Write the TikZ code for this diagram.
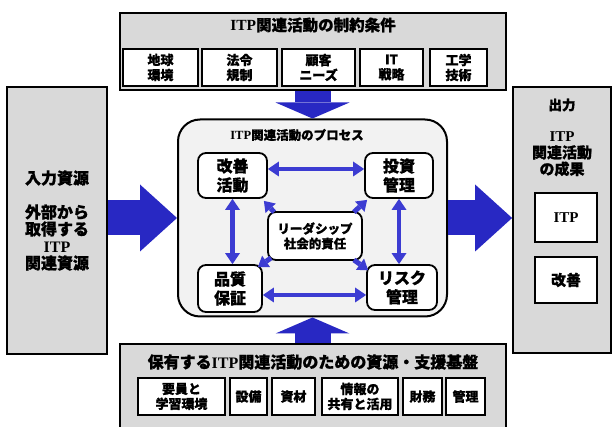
\documentclass[tikz,border=0pt]{standalone}
\usepackage{fontspec}
\setmainfont{Noto Sans CJK JP}[BoldFeatures={FakeBold=0.8}]
\newfontfamily\serifb{Liberation Serif}
\usetikzlibrary{arrows.meta}
\definecolor{panel}{RGB}{217,217,217}
\definecolor{procfill}{RGB}{242,242,242}
\definecolor{bigblue}{RGB}{40,40,195}
\definecolor{smallblue}{RGB}{60,60,210}
\newcommand{\ITP}{{\serifb\bfseries ITP}}
\begin{document}
\begin{tikzpicture}[x=1pt,y=-1pt,
  panelbox/.style={draw=black, line width=1.8pt, fill=panel, inner sep=0pt},
  txt/.style={inner sep=0pt, align=center},
  smallbox/.style={draw=black, line width=2pt, fill=white, inner sep=0pt, minimum height=37pt, align=center, font=\bfseries\fontsize{13}{15}\selectfont},
  outbox/.style={draw=black, line width=2pt, fill=white, inner sep=0pt, minimum width=62pt, align=center, font=\bfseries\fontsize{15}{17}\selectfont},
  procbox/.style={draw=black, line width=2pt, fill=procfill, rounded corners=22pt, inner sep=0pt},
  actbox/.style={draw=black, line width=1.8pt, fill=white, rounded corners=8pt, inner sep=0pt, align=center, font=\bfseries\fontsize{16}{19}\selectfont},
  bigarrow/.style={draw=bigblue, line width=35pt, -{Triangle[length=37pt,width=67pt,line width=0pt]}},
  vbigarrow/.style={draw=bigblue, line width=36pt, -{Triangle[length=16pt,width=74pt,line width=0pt]}},
  darrow/.style={draw=smallblue, line width=4.5pt, {Triangle[length=11pt,width=15pt,line width=0pt]}-{Triangle[length=11pt,width=15pt,line width=0pt]}},
  sarrow/.style={draw=smallblue, line width=5pt, -{Triangle[length=10pt,width=14pt,line width=0pt]}}
]
\useasboundingbox (0,0) rectangle (614,427);
\clip (0,0) rectangle (614,427);
\fill[white] (0,0) rectangle (614,427);

% left panel
\node[panelbox, minimum width=100pt, minimum height=267pt, align=center,
      font=\bfseries\fontsize{16}{17}\selectfont] (lbox) at (57,220.5)
      {入力資源\\[17pt]外部から\\取得する\\\ITP\\関連資源};

% right panel
\node[panelbox, minimum width=98pt, minimum height=266pt] (rbox) at (562,220) {};
\node[txt, font=\bfseries\fontsize{13.5}{16}\selectfont] (rtitle) at (562,105) {出力};
\node[txt, font=\bfseries\fontsize{15}{16.5}\selectfont] (rsub) at (562,154) {\ITP\\関連活動\\の成果};
\node[outbox, minimum height=49pt] (oitp) at (566,217.5) {\ITP};
\node[outbox, minimum height=46pt] (okai) at (566,280) {改善};

% top panel
\node[panelbox, minimum width=386pt, minimum height=77pt] (tbox) at (313,51.5) {};
\node[txt, font=\bfseries\fontsize{15.5}{18}\selectfont] (ttitle) at (313,25) {\ITP 関連活動の制約条件};
\node[smallbox, minimum width=75pt] (t1) at (160.5,67.5) {地球\\環境};
\node[smallbox, minimum width=75pt] (t2) at (239.5,67.5) {法令\\規制};
\node[smallbox, minimum width=73pt] (t3) at (318.5,67.5) {顧客\\ニーズ};
\node[smallbox, minimum width=63pt] (t4) at (391.5,67.5) {IT\\戦略};
\node[smallbox, minimum width=57pt] (t5) at (458.5,67.5) {工学\\技術};

% bottom panel
\node[panelbox, minimum width=386pt, minimum height=90pt] (bbox) at (313,389) {};
\node[txt, font=\bfseries\fontsize{16}{18}\selectfont] (btitle) at (313,362) {保有する\ITP 関連活動のための資源・支援基盤};
\node[smallbox, minimum width=87pt] (b1) at (181.5,396.5) {要員と\\学習環境};
\node[smallbox, minimum width=37pt] (b2) at (248.5,396.5) {設備};
\node[smallbox, minimum width=43pt] (b3) at (293.5,396.5) {資材};
\node[smallbox, minimum width=76pt] (b4) at (360,396.5) {情報の\\共有と活用};
\node[smallbox, minimum width=39pt] (b5) at (422.5,396.5) {財務};
\node[smallbox, minimum width=39pt] (b6) at (465.5,396.5) {管理};

% process box
\node[procbox, minimum width=269pt, minimum height=197pt] (proc) at (312.5,218) {};
\node[txt, font=\bfseries\fontsize{12.5}{15}\selectfont] (ptitle) at (297,135) {\ITP 関連活動のプロセス};
\node[actbox, minimum width=69pt, minimum height=45pt] (kaizen) at (232.5,175.5) {改善\\活動};
\node[actbox, minimum width=68pt, minimum height=45pt] (toushi) at (399,175.5) {投資\\管理};
\node[actbox, minimum width=64pt, minimum height=47pt] (hinshitsu) at (230,288.5) {品質\\保証};
\node[actbox, minimum width=70pt, minimum height=45pt] (risk) at (402,287.5) {リスク\\管理};
\node[actbox, minimum width=94pt, minimum height=48pt, font=\bfseries\fontsize{12.5}{15}\selectfont] (ctr) at (315,236) {リーダシップ\\社会的責任};

% arrows inside process
\draw[darrow] ([yshift=6.5pt]kaizen.east) -- ([yshift=6.5pt]kaizen.east -| toushi.west);
\draw[darrow] ([yshift=-6.5pt]hinshitsu.east) -- ([yshift=-6.5pt]hinshitsu.east -| risk.west);
\draw[darrow] (kaizen.south) -- (kaizen.south |- hinshitsu.north);
\draw[darrow] (toushi.south) -- (toushi.south |- risk.north);
\draw[sarrow] ([shift={(7,1)}]ctr.north west) -- ([shift={(-4,2)}]kaizen.south east);
\draw[sarrow] ([shift={(-9,1)}]ctr.north east) -- ([shift={(3,1)}]toushi.south west);
\draw[sarrow] ([shift={(4,-3)}]ctr.south west) -- ([shift={(-5,3)}]hinshitsu.north east);
\draw[sarrow] ([shift={(-9,-1)}]ctr.south east) -- ([shift={(2,6)}]risk.north west);

% big block arrows
\draw[bigarrow] (lbox.east |- proc.west) -- (proc.west);
\draw[bigarrow] (proc.east) -- (proc.east -| rbox.west);
\draw[vbigarrow] (tbox.south -| proc.north) -- (proc.north);
\draw[vbigarrow] (bbox.north -| proc.south) -- (proc.south);
\end{tikzpicture}
\end{document}
